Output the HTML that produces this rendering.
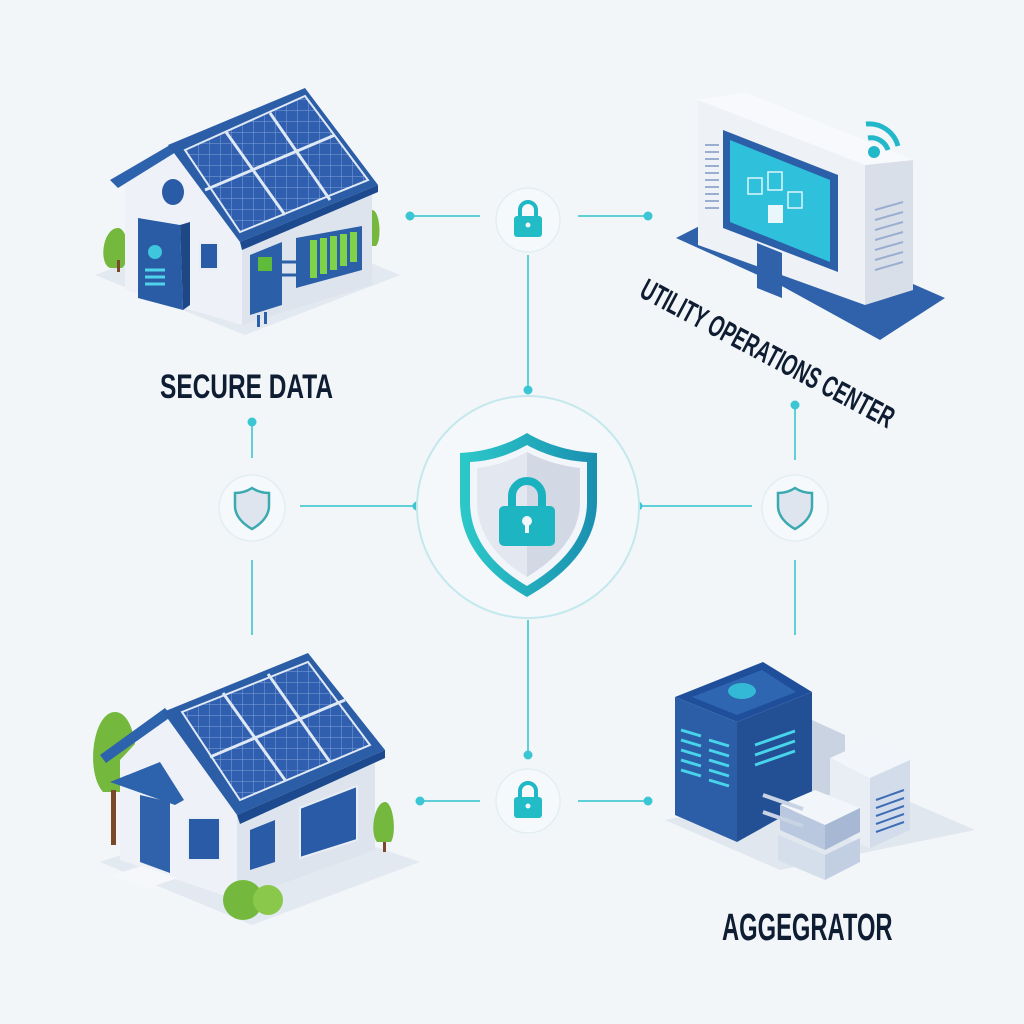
<!DOCTYPE html>
<html><head><meta charset="utf-8"><style>
html,body{margin:0;padding:0;background:#f3f6f9;}
svg{display:block}
text{font-family:"Liberation Sans",sans-serif;font-weight:bold;fill:#0f1d33}
</style></head><body>
<svg width="1024" height="1024" viewBox="0 0 1024 1024" xmlns="http://www.w3.org/2000/svg">
<defs>
<linearGradient id="sh" x1="0" x2="1"><stop offset="0" stop-color="#2cc9c9"/><stop offset="1" stop-color="#1a8fb0"/></linearGradient>
<pattern id="pv" width="11" height="11" patternUnits="userSpaceOnUse"><rect width="11" height="11" fill="#2f5fae"/><path d="M0 0H11M0 0V11" stroke="#7fa3d8" stroke-width="1"/></pattern>
</defs>
<rect width="1024" height="1024" fill="#f3f6f9"/>
<g stroke="#5fd0d8" stroke-width="2" fill="none">
<line x1="410" y1="216" x2="480" y2="216"/><line x1="578" y1="216" x2="648" y2="216"/>
<line x1="528" y1="255" x2="528" y2="390"/>
<line x1="300" y1="506" x2="415" y2="506"/><line x1="640" y1="506" x2="752" y2="506"/>
<line x1="252" y1="422" x2="252" y2="458"/><line x1="252" y1="560" x2="252" y2="635"/>
<line x1="795" y1="405" x2="795" y2="460"/><line x1="795" y1="560" x2="795" y2="635"/>
<line x1="528" y1="620" x2="528" y2="755"/>
<line x1="420" y1="801" x2="480" y2="801"/><line x1="578" y1="801" x2="648" y2="801"/>
</g>
<g fill="#3cc6d4">
<circle cx="410" cy="216" r="4.5"/><circle cx="648" cy="216" r="4.5"/><circle cx="528" cy="390" r="4.5"/>
<circle cx="417" cy="506" r="4.5"/><circle cx="638" cy="506" r="4.5"/><circle cx="252" cy="422" r="4.5"/>
<circle cx="795" cy="405" r="4.5"/><circle cx="528" cy="755" r="4.5"/><circle cx="420" cy="801" r="4.5"/><circle cx="648" cy="801" r="4.5"/>
</g>
<circle cx="528" cy="507" r="111" fill="#f4f8fa" stroke="#c3e8ee" stroke-width="2"/>
<g>
<circle cx="528" cy="220" r="32" fill="#f6f9fb" stroke="#e3eef2" stroke-width="1.5"/>
<path d="M520 217v-7a8 8 0 0 1 16 0v7" stroke="#1fb8c4" stroke-width="4" fill="none"/>
<rect x="514" y="216" width="28" height="21" rx="3" fill="#22bcc6"/><circle cx="528" cy="225" r="2.5" fill="#f3f6f9"/>
<circle cx="528" cy="801" r="32" fill="#f6f9fb" stroke="#e3eef2" stroke-width="1.5"/>
<path d="M520 798v-7a8 8 0 0 1 16 0v7" stroke="#1fb8c4" stroke-width="4" fill="none"/>
<rect x="514" y="797" width="28" height="21" rx="3" fill="#22bcc6"/><circle cx="528" cy="806" r="2.5" fill="#f3f6f9"/>
</g>
<g>
<circle cx="252" cy="508" r="33" fill="#f6f9fb" stroke="#e3eef2" stroke-width="1.5"/>
<path d="M252 488c-6 4-11 5-17 5v13c0 10 8 18 17 23 9-5 17-13 17-23v-13c-6 0-11-1-17-5z" fill="#dfe5ee" stroke="#3aa9b0" stroke-width="2.5"/>
<circle cx="795" cy="508" r="33" fill="#f6f9fb" stroke="#e3eef2" stroke-width="1.5"/>
<path d="M795 488c-6 4-11 5-17 5v13c0 10 8 18 17 23 9-5 17-13 17-23v-13c-6 0-11-1-17-5z" fill="#dfe5ee" stroke="#3aa9b0" stroke-width="2.5"/>
</g>
<path d="M527 433c-20 12-42 19-67 20v48c0 44 30 75 67 96 37-21 70-52 70-96v-48c-25-1-50-8-70-20z" fill="url(#sh)"/>
<path d="M527 445c-18 10-36 16-57 17v40c0 38 25 65 57 84 32-19 60-46 60-84v-40c-21-1-42-7-60-17z" fill="#f2f5f9"/>
<path d="M527 452c-17 9-32 14-50 16v34c0 33 22 58 50 75z" fill="#e3e8f0"/><path d="M527 452v125c28-17 53-42 53-75v-34c-18-2-36-7-53-16z" fill="#d2d9e5"/>
<path d="M512 510v-14a15 15 0 0 1 30 0v14" stroke="#1bb2c0" stroke-width="8" fill="none"/>
<rect x="499" y="506" width="56" height="40" rx="5" fill="#1eb5c2"/>
<circle cx="527" cy="521" r="5" fill="#f2f5f9"/><rect x="525" y="521" width="4" height="12" fill="#f2f5f9"/>

<!-- HOUSE 1 -->
<polygon points="95,275 245,335 400,275 255,215" fill="#e3e9f1"/>
<path d="M118 228c-15 0-20 35-8 40h12c10-8 6-40-4-40z" fill="#74b83e"/><rect x="117" y="260" width="3" height="12" fill="#7a4a2a"/>
<path d="M372 210c-10 0-12 32-2 36h6c6-6 4-36-4-36z" fill="#74b83e"/>
<polygon points="125,182 170,150 242,240 242,325 125,290" fill="#eef2f8"/>
<polygon points="242,240 372,188 372,285 242,325" fill="#dde4ee"/>
<polygon points="110,180 170,145 176,152 118,188" fill="#2d62ad"/>
<polygon points="168,145 305,88 378,185 240,242" fill="#2b5ea6"/>
<polygon points="185,150 305,96 368,180 240,232" fill="url(#pv)" stroke="#dfe8f5" stroke-width="2"/>
<path d="M226 132 L285 215 M270 113 L330 200 M205 190 L335 135" stroke="#dfe8f5" stroke-width="3"/>
<polygon points="240,242 378,185 378,192 242,250" fill="#1d4a8e"/>
<ellipse cx="173" cy="192" rx="11" ry="13" fill="#2a5ba6"/>
<polygon points="138,218 180,225 183,310 138,298" fill="#2a5ca6"/><polygon points="180,225 190,222 190,305 183,310" fill="#1d4785"/>
<circle cx="155" cy="252" r="7" fill="#3fc5dd"/><path d="M145 270h20M145 277h20M145 284h20" stroke="#4fd3ea" stroke-width="3"/>
<rect x="200" y="243" width="18" height="26" fill="#2a5ba6" stroke="#e8eef6" stroke-width="2"/>
<polygon points="250,255 282,242 282,305 250,315" fill="#2b5fa8"/><rect x="258" y="257" width="14" height="14" fill="#5fbb3a"/>
<rect x="257" y="315" width="3" height="12" fill="#2b5fa8"/><rect x="264" y="312" width="3" height="12" fill="#2b5fa8"/>
<polygon points="296,238 362,226 362,270 296,288" fill="#2b5fa8"/>
<g fill="#7ed348"><rect x="310" y="240" width="7" height="38"/><rect x="320" y="238" width="7" height="36"/><rect x="330" y="236" width="7" height="34"/><rect x="340" y="234" width="7" height="32"/><rect x="350" y="232" width="7" height="30"/></g>
<path d="M282 262h14M282 275h14" stroke="#2b5fa8" stroke-width="3"/>
<text x="160" y="398" font-size="34" transform="translate(160 0) scale(0.72 1) translate(-160 0)">SECURE DATA</text>

<!-- UTILITY CENTER -->
<polygon points="676,238 780,285 880,340 945,298 840,252 735,208" fill="#2f62aa"/>
<polygon points="698,100 865,165 865,305 698,245" fill="#eef1f6"/>
<polygon points="865,165 913,160 913,290 865,305" fill="#d9dfe9"/>
<polygon points="698,100 745,92 913,160 865,165" fill="#f7f9fc"/>
<polygon points="723,130 838,175 838,272 723,228" fill="#2b5fa8"/>
<polygon points="730,140 830,180 830,262 730,222" fill="#2fc0dc"/>
<g fill="none" stroke="#dff5fa" stroke-width="1.5"><rect x="748" y="178" width="14" height="16"/><rect x="768" y="172" width="14" height="18"/><rect x="788" y="192" width="14" height="16"/></g>
<rect x="768" y="205" width="15" height="18" fill="#e9f6fa"/>
<polygon points="757,243 782,253 782,298 757,288" fill="#2f62aa"/>
<g stroke="#9aaed0" stroke-width="2"><path d="M705 145h14M705 152h14M705 159h14M705 166h14M705 173h14M705 180h14M705 187h14M705 194h14M705 201h14M705 208h14"/><path d="M875 210l28-8M875 220l28-8M875 230l28-8M875 240l28-8M875 250l28-8M875 260l28-8M875 270l28-8"/></g>
<circle cx="874" cy="152" r="6" fill="#22b8ca"/>
<path d="M868 138a18 18 0 0 1 20 12M866 124a30 30 0 0 1 32 22" stroke="#22b8ca" stroke-width="5" fill="none"/>
<text x="0" y="0" font-size="30" transform="translate(638 296) rotate(28) scale(0.63 1)">UTILITY OPERATIONS CENTER</text>

<!-- HOUSE 2 -->
<polygon points="100,862 252,925 420,862 262,808" fill="#e3e9f1"/>
<path d="M115 712c-22 0-30 60-12 80h22c18-20 12-80-10-80z" fill="#74b83e"/><rect x="111" y="790" width="5" height="55" fill="#7a4a2a"/>
<polygon points="120,760 165,712 237,815 237,900 120,860" fill="#eef2f8"/>
<polygon points="237,815 375,755 375,850 237,900" fill="#dde4ee"/>
<polygon points="100,755 165,708 172,716 106,763" fill="#2d62ad"/>
<polygon points="163,712 308,653 385,750 237,815" fill="#2b5ea6"/>
<polygon points="182,712 308,662 370,745 240,800" fill="url(#pv)" stroke="#dfe8f5" stroke-width="2"/>
<path d="M223 693L285 780M268 674L330 762M210 757L345 700" stroke="#dfe8f5" stroke-width="3"/>
<polygon points="237,815 385,750 385,758 240,824" fill="#1d4a8e"/>
<polygon points="110,782 160,762 184,800 175,805" fill="#2d62ad"/>
<polygon points="140,795 170,802 170,873 140,862" fill="#2f62aa"/>
<rect x="188" y="818" width="32" height="42" fill="#2a5ba6" stroke="#e8eef6" stroke-width="2"/>
<polygon points="250,830 275,820 275,862 250,870" fill="#2a5ba6"/>
<polygon points="300,808 357,786 357,840 300,858" fill="#2a5ba6" stroke="#e8eef6" stroke-width="2"/>
<polygon points="112,875 148,888 178,878 142,866" fill="#f5f7fa"/>
<circle cx="243" cy="900" r="20" fill="#74b83e"/><circle cx="268" cy="900" r="15" fill="#8ac84c"/>
<path d="M385 802c-10 0-16 30-8 40h14c6-10 2-40-6-40z" fill="#74b83e"/><rect x="383" y="842" width="3" height="10" fill="#7a4a2a"/>

<!-- AGGREGATOR -->
<polygon points="665,820 780,870 975,830 860,780" fill="#e1e7ef"/>
<polygon points="812,720 845,735 845,790 812,800" fill="#c9d3e2"/>
<polygon points="830,758 870,740 910,760 870,778" fill="#f2f5f9"/>
<polygon points="830,758 870,778 870,848 830,830" fill="#e9eef5"/>
<polygon points="870,778 910,760 910,830 870,848" fill="#d3dcea"/>
<path d="M876 800l28-10M876 808l28-10M876 816l28-10M876 824l28-10M876 832l28-10" stroke="#3d6eb6" stroke-width="2"/>
<polygon points="675,697 763,662 812,692 737,722" fill="#1f4f9a"/>
<polygon points="692,697 762,670 796,692 737,715" fill="#2f66b2"/>
<ellipse cx="742" cy="691" rx="14" ry="8" fill="#33b9d6"/>
<polygon points="675,697 737,722 737,842 675,815" fill="#2c5ea8"/>
<polygon points="737,722 812,692 812,800 737,842" fill="#234f95"/>
<g stroke="#48d4ea" stroke-width="3"><path d="M681 730l20 6M681 740l20 6M681 750l20 6M681 760l20 6M681 770l20 6M709 740l20 6M709 750l20 6M709 760l20 6M709 770l20 6M709 780l20 6"/><path d="M755 745l40-14M755 755l40-14M755 765l40-14"/></g>
<polygon points="780,805 815,790 860,808 825,825" fill="#f2f5f9"/>
<polygon points="780,805 825,825 825,850 780,830" fill="#b9c8de"/>
<polygon points="825,825 860,808 860,832 825,850" fill="#a6b8d4"/>
<polygon points="778,835 825,855 825,880 778,860" fill="#d5deeb"/>
<polygon points="825,855 860,838 860,862 825,880" fill="#c2cfe2"/>
<path d="M763 795l40 14M763 812l40 14" stroke="#c8d3e4" stroke-width="4"/>
<text x="722" y="940" font-size="38" transform="translate(722 0) scale(0.625 1) translate(-722 0)">AGGEGRATOR</text>
</svg>
</body></html>
